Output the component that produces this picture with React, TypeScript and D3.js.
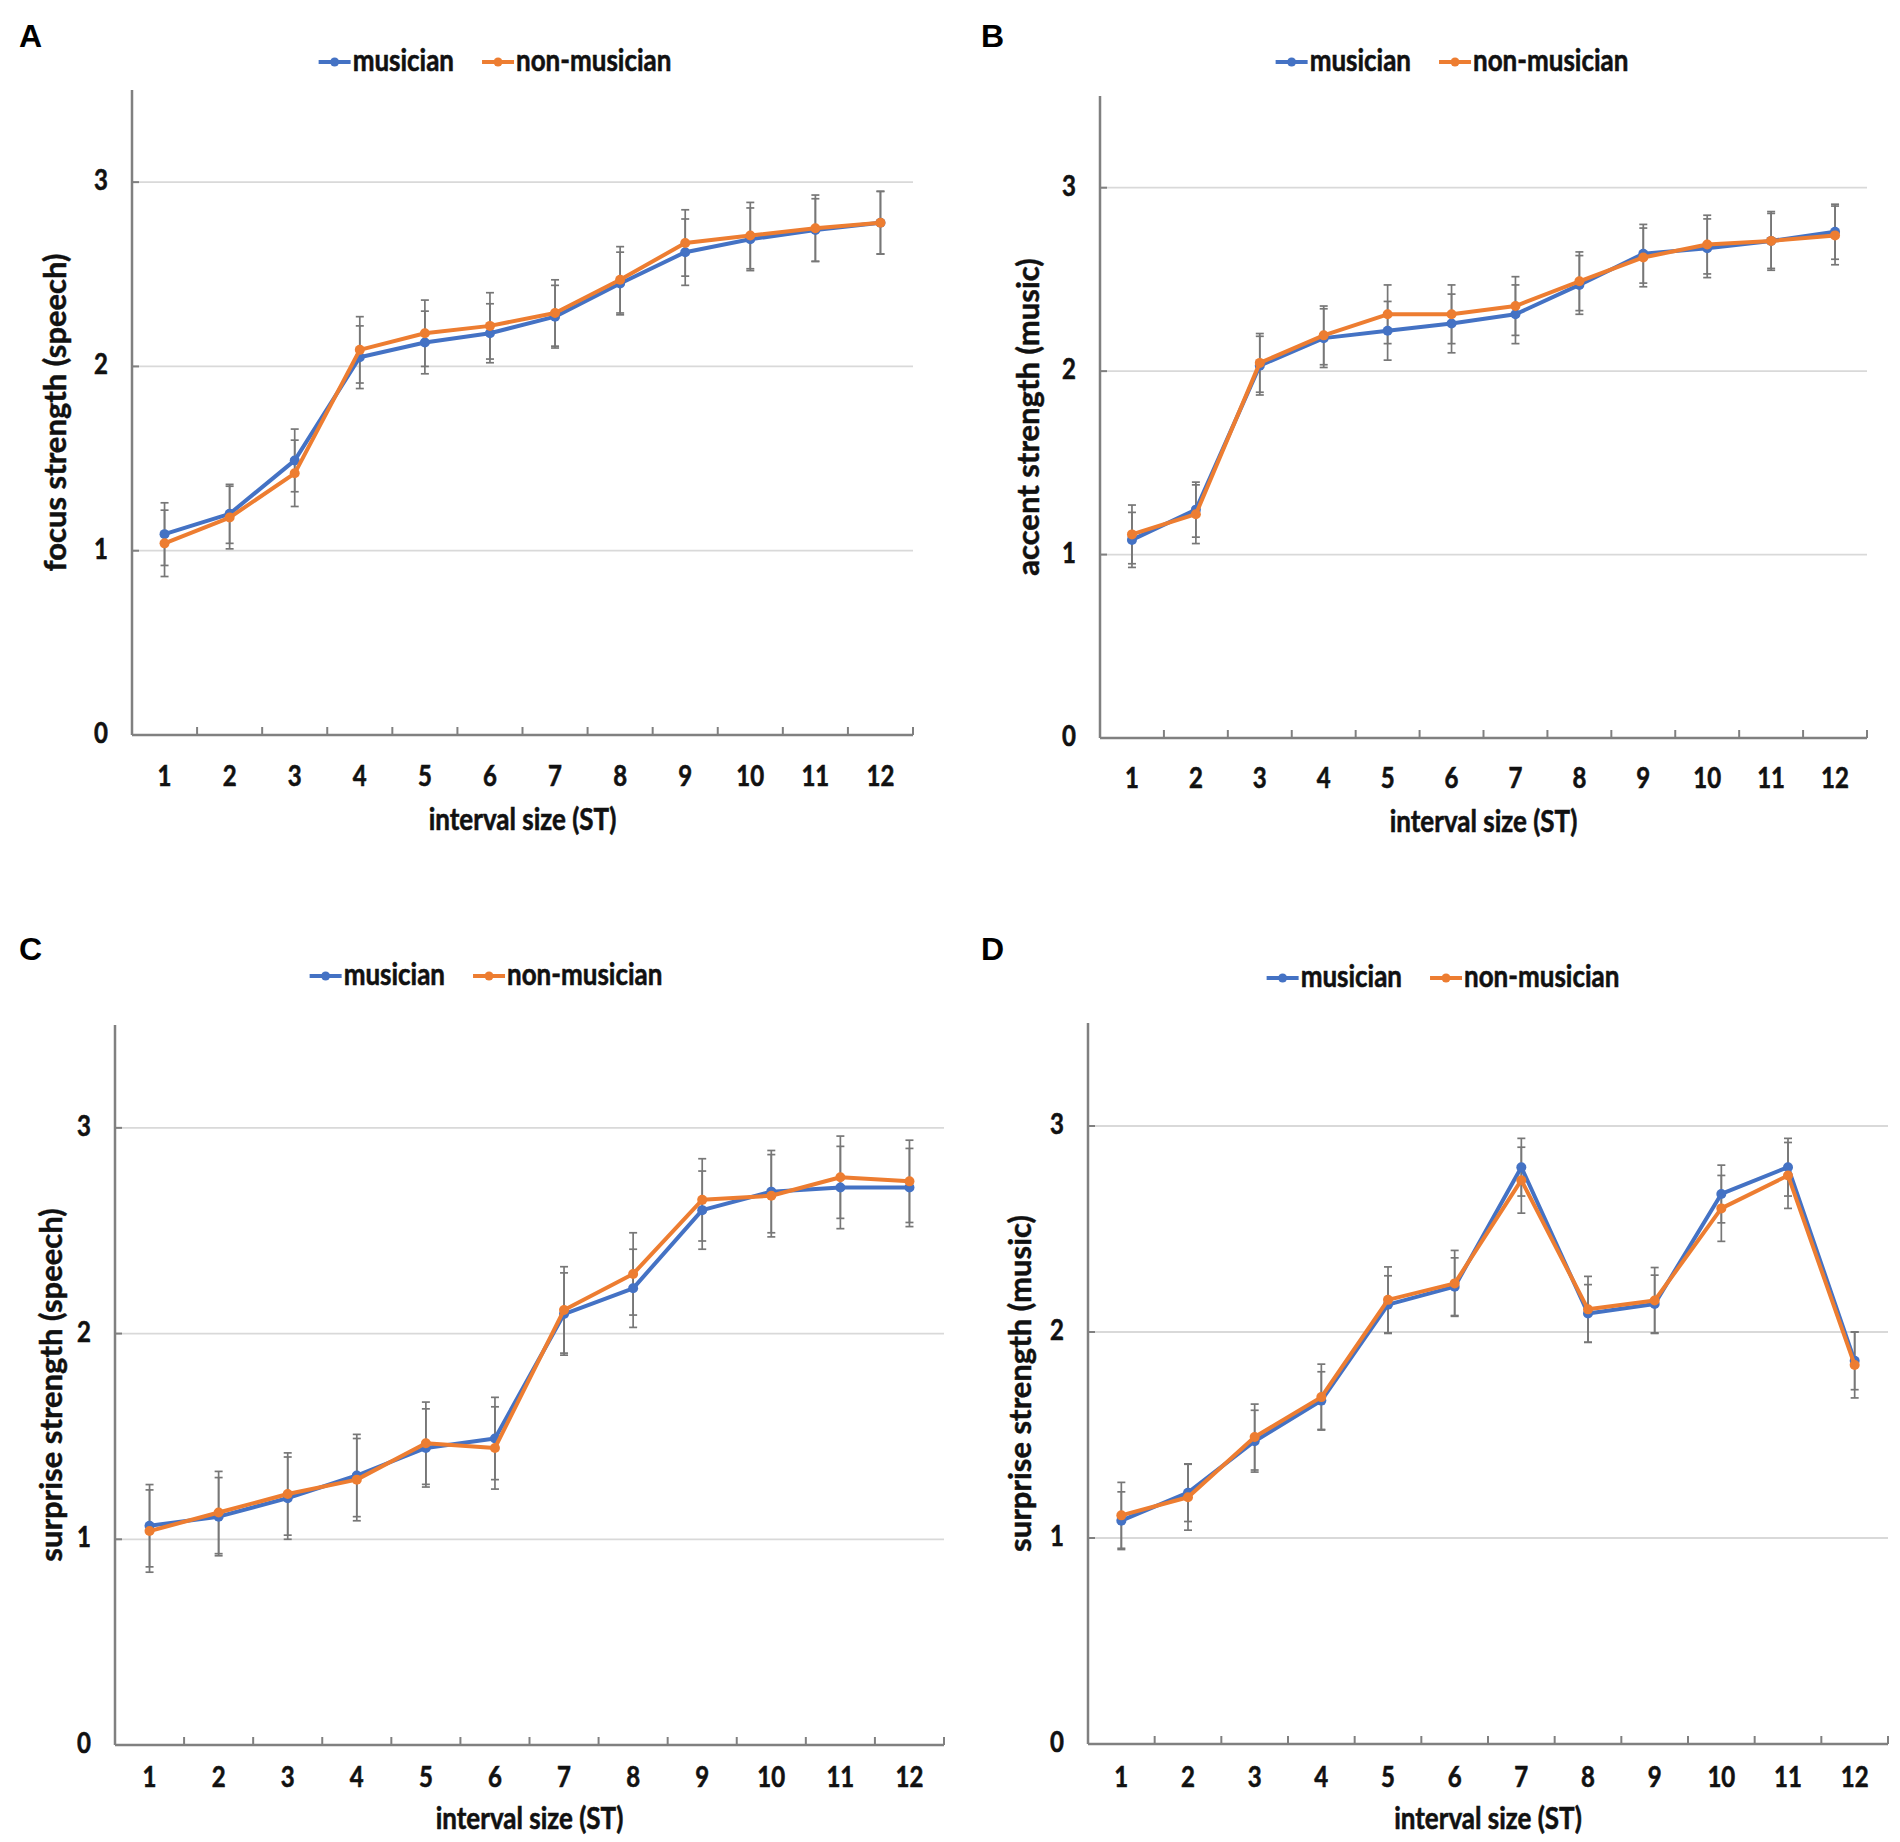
import React, { useEffect, useRef } from 'react';
import * as d3 from 'd3';

const categories = ['1', '2', '3', '4', '5', '6', '7', '8', '9', '10', '11', '12'];
const yTicks = [0, 1, 2, 3];
const seriesNames = ['musician', 'non-musician'];

// panel A: focus strength (speech)
const focusMusician = [1.09, 1.2, 1.49, 2.05, 2.13, 2.18, 2.27, 2.45, 2.62, 2.69, 2.74, 2.78];
const focusNonMusician = [1.04, 1.18, 1.42, 2.09, 2.18, 2.22, 2.29, 2.47, 2.67, 2.71, 2.75, 2.78];
const focusMusicianErr = [0.17, 0.16, 0.17, 0.17, 0.17, 0.16, 0.17, 0.17, 0.18, 0.17, 0.17, 0.17];
const focusNonMusicianErr = [0.18, 0.17, 0.18, 0.18, 0.18, 0.18, 0.18, 0.18, 0.18, 0.18, 0.18, 0.17];

// panel B: accent strength (music)
const accentMusician = [1.08, 1.245, 2.03, 2.18, 2.22, 2.26, 2.31, 2.47, 2.64, 2.67, 2.71, 2.76];
const accentNonMusician = [1.11, 1.22, 2.045, 2.195, 2.31, 2.31, 2.355, 2.49, 2.62, 2.69, 2.71, 2.74];
const accentMusicianErr = [0.15, 0.15, 0.16, 0.16, 0.16, 0.16, 0.16, 0.16, 0.16, 0.16, 0.15, 0.15];
const accentNonMusicianErr = [0.16, 0.16, 0.16, 0.16, 0.16, 0.16, 0.16, 0.16, 0.16, 0.16, 0.16, 0.16];

// panel C: surprise strength (speech)
const surpriseSpeechMusician = [1.066, 1.11, 1.2, 1.31, 1.444, 1.49, 2.095, 2.22, 2.6, 2.69, 2.71, 2.71];
const surpriseSpeechNonMusician = [1.04, 1.13, 1.22, 1.29, 1.467, 1.444, 2.115, 2.29, 2.65, 2.67, 2.76, 2.74];
const surpriseSpeechMusicianErr = [0.2, 0.19, 0.2, 0.2, 0.19, 0.2, 0.2, 0.19, 0.19, 0.2, 0.2, 0.19];
const surpriseSpeechNonMusicianErr = [0.2, 0.2, 0.2, 0.2, 0.2, 0.2, 0.21, 0.2, 0.2, 0.2, 0.2, 0.2];

// panel D: surprise strength (music)
const surpriseMusicMusician = [1.084, 1.22, 1.47, 1.667, 2.133, 2.22, 2.8, 2.09, 2.136, 2.67, 2.8, 1.86];
const surpriseMusicNonMusician = [1.11, 1.198, 1.49, 1.684, 2.156, 2.236, 2.737, 2.11, 2.153, 2.6, 2.76, 1.84];
const surpriseMusicMusicianErr = [0.14, 0.14, 0.15, 0.14, 0.14, 0.14, 0.14, 0.14, 0.14, 0.14, 0.14, 0.14];
const surpriseMusicNonMusicianErr = [0.16, 0.16, 0.16, 0.16, 0.16, 0.16, 0.16, 0.16, 0.16, 0.16, 0.16, 0.16];

const panels = [
  {
    letter: 'A', yLabel: 'focus strength (speech)',
    values: [focusMusician, focusNonMusician], errors: [focusMusicianErr, focusNonMusicianErr],
    left: 132, right: 913, top: 90, bottom: 735, yLabelX: 55, tickLabelY: 786, xLabelY: 830,
    letterX: 19, letterY: 47, legendY: 62, legendCx: 495,
  },
  {
    letter: 'B', yLabel: 'accent strength (music)',
    values: [accentMusician, accentNonMusician], errors: [accentMusicianErr, accentNonMusicianErr],
    left: 1100, right: 1867, top: 96, bottom: 738, yLabelX: 1028, tickLabelY: 788, xLabelY: 832,
    letterX: 981, letterY: 47, legendY: 62, legendCx: 1452,
  },
  {
    letter: 'C', yLabel: 'surprise strength (speech)',
    values: [surpriseSpeechMusician, surpriseSpeechNonMusician],
    errors: [surpriseSpeechMusicianErr, surpriseSpeechNonMusicianErr],
    left: 115, right: 944, top: 1025, bottom: 1745, yLabelX: 51, tickLabelY: 1787, xLabelY: 1829,
    letterX: 19, letterY: 960, legendY: 976, legendCx: 486,
  },
  {
    letter: 'D', yLabel: 'surprise strength (music)',
    values: [surpriseMusicMusician, surpriseMusicNonMusician],
    errors: [surpriseMusicMusicianErr, surpriseMusicNonMusicianErr],
    left: 1088, right: 1888, top: 1023, bottom: 1744, yLabelX: 1020, tickLabelY: 1787, xLabelY: 1829,
    letterX: 981, letterY: 960, legendY: 978, legendCx: 1443,
  },
];

const colors = ['#4472C4', '#ED7D31'];
const font = 'Lato, "Open Sans", sans-serif';
const stretch = 1.15; // the figure's text is drawn slightly taller than wide

const App: React.FC = () => {
  const svgRef = useRef<SVGSVGElement | null>(null);

  useEffect(() => {
    if (!svgRef.current) return;
    const svg = d3.select(svgRef.current);
    svg.selectAll('*').remove();

    // horizontal text, stretched vertically around its baseline
    const addText = (
      parent: d3.Selection<SVGGElement, unknown, null, undefined>,
      tx: number, ty: number, txt: string, size: number, anchor = 'middle',
    ) => parent.append('text')
      .attr('transform', `translate(${tx},${ty}) scale(1,${stretch})`)
      .attr('text-anchor', anchor)
      .attr('font-family', font).attr('font-weight', 700).attr('font-size', size)
      .attr('fill', '#111').attr('stroke', '#111').attr('stroke-width', 0.5)
      .text(txt);

    panels.forEach((p) => {
      const g = svg.append('g') as d3.Selection<SVGGElement, unknown, null, undefined>;
      const x = d3.scaleBand<string>().domain(categories).range([p.left, p.right]);
      const y = d3.scaleLinear().domain([0, 3.5]).range([p.bottom, p.top]);
      const cx = (i: number) => (x(categories[i]) as number) + x.bandwidth() / 2;

      // gridlines
      g.selectAll('.grid')
        .data(yTicks.filter((t) => t > 0))
        .enter()
        .append('line')
        .attr('x1', p.left)
        .attr('x2', p.right)
        .attr('y1', (d) => y(d))
        .attr('y2', (d) => y(d))
        .attr('stroke', '#d9d9d9')
        .attr('stroke-width', 1.8);

      // y axis
      yTicks.forEach((t) => addText(g, p.left - 24, y(t) + 8, String(t), 24, 'end'));
      g.selectAll('.ytick')
        .data(yTicks.filter((t) => t > 0))
        .enter()
        .append('line')
        .attr('x1', p.left).attr('x2', p.left + 7)
        .attr('y1', (d) => y(d)).attr('y2', (d) => y(d))
        .attr('stroke', '#808080').attr('stroke-width', 2);
      g.append('line')
        .attr('x1', p.left).attr('x2', p.left)
        .attr('y1', p.top).attr('y2', p.bottom)
        .attr('stroke', '#808080').attr('stroke-width', 2.5);

      // x axis
      g.append('line')
        .attr('x1', p.left).attr('x2', p.right)
        .attr('y1', p.bottom).attr('y2', p.bottom)
        .attr('stroke', '#808080').attr('stroke-width', 2.5);
      g.selectAll('.xtick')
        .data(categories.slice(1).concat(['end']))
        .enter()
        .append('line')
        .attr('x1', (d) => (d === 'end' ? p.right : (x(d) as number)))
        .attr('x2', (d) => (d === 'end' ? p.right : (x(d) as number)))
        .attr('y1', p.bottom).attr('y2', p.bottom - 8)
        .attr('stroke', '#808080').attr('stroke-width', 2);
      categories.forEach((c, i) => addText(g, cx(i), p.tickLabelY, c, 24));

      addText(g, (p.left + p.right) / 2, p.xLabelY, 'interval size (ST)', 26);

      g.append('text')
        .attr('transform', `translate(${p.yLabelX},${(p.top + p.bottom) / 2}) rotate(-90)`)
        .attr('dy', '0.35em')
        .attr('text-anchor', 'middle')
        .attr('font-family', font).attr('font-weight', 700).attr('font-size', 31)
        .attr('fill', '#111').attr('stroke', '#111').attr('stroke-width', 0.5)
        .text(p.yLabel);

      g.append('text')
        .attr('x', p.letterX).attr('y', p.letterY)
        .attr('font-family', '"Liberation Sans", Arial, sans-serif').attr('font-weight', 700)
        .attr('font-size', 32).attr('fill', '#000')
        .text(p.letter);

      // error bars
      p.values.forEach((vals, si) => {
        const errs = p.errors[si];
        const eb = g.append('g').attr('stroke', '#777').attr('stroke-width', 1.7);
        vals.forEach((v, i) => {
          eb.append('line').attr('x1', cx(i)).attr('x2', cx(i)).attr('y1', y(v - errs[i])).attr('y2', y(v + errs[i]));
          eb.append('line').attr('x1', cx(i) - 4).attr('x2', cx(i) + 4).attr('y1', y(v - errs[i])).attr('y2', y(v - errs[i]));
          eb.append('line').attr('x1', cx(i) - 4).attr('x2', cx(i) + 4).attr('y1', y(v + errs[i])).attr('y2', y(v + errs[i]));
        });
      });

      // lines
      p.values.forEach((vals, si) => {
        const line = d3.line<number>()
          .x((_d, i) => cx(i))
          .y((d) => y(d));
        g.append('path')
          .datum(vals)
          .attr('fill', 'none')
          .attr('stroke', colors[si])
          .attr('stroke-width', 4)
          .attr('stroke-linejoin', 'round')
          .attr('d', line);
        g.selectAll(`.pt${si}`)
          .data(vals)
          .enter()
          .append('circle')
          .attr('cx', (_d, i) => cx(i))
          .attr('cy', (d) => y(d))
          .attr('r', 5)
          .attr('fill', colors[si]);
      });

      // legend
      const legend = g.append('g') as d3.Selection<SVGGElement, unknown, null, undefined>;
      let cursor = 0;
      seriesNames.forEach((name, si) => {
        const item = legend.append('g').attr('transform', `translate(${cursor},0)`) as d3.Selection<SVGGElement, unknown, null, undefined>;
        item.append('line').attr('x1', 0).attr('x2', 32).attr('y1', 0).attr('y2', 0)
          .attr('stroke', colors[si]).attr('stroke-width', 4);
        item.append('circle').attr('cx', 16).attr('cy', 0).attr('r', 4.5).attr('fill', colors[si]);
        const t = addText(item, 34, 9, name, 26, 'start');
        const w = (t.node() as SVGTextElement).getComputedTextLength();
        cursor += 34 + w + 28;
      });
      const total = cursor - 28;
      legend.attr('transform', `translate(${p.legendCx - total / 2},${p.legendY})`);
    });
  }, []);

  return (
    <svg
      ref={svgRef}
      width={1900}
      height={1842}
      viewBox="0 0 1900 1842"
      style={{ position: 'absolute', left: 0, top: 0, background: '#fff' }}
    ></svg>
  );
};

export default App;
